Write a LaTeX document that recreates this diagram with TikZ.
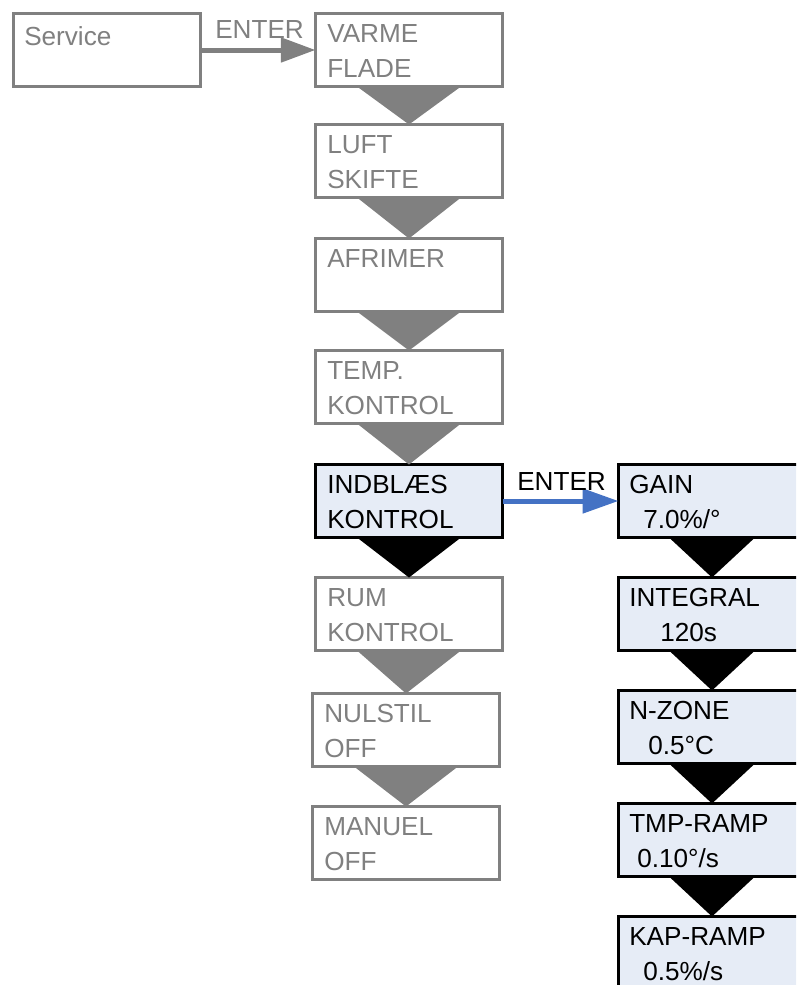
\documentclass[tikz,border=0pt]{standalone}
\usepackage{fontspec}
\setmainfont{Liberation Sans}
\usetikzlibrary{arrows.meta,calc}
\definecolor{gr}{HTML}{808080}
\definecolor{lb}{HTML}{E6ECF6}
\definecolor{bl}{HTML}{4472C4}
\begin{document}
\begin{tikzpicture}[x=0.75pt,y=-0.75pt,
  boxbase/.style={anchor=north west,inner sep=0pt,outer sep=0pt,line width=2.25pt,minimum width=140.25pt,minimum height=54.75pt},
  graybox/.style={boxbase,draw=gr,fill=white},
  actbox/.style={boxbase,draw=black,fill=lb},
  widebox/.style={boxbase,fill=lb,minimum width=187.5pt},
  openedge/.style={draw=black,line width=2.25pt},
  txt/.style={anchor=base west,inner sep=0pt,font=\fontsize{19.6}{22}\selectfont},
  gtxt/.style={txt,text=gr},
  btxt/.style={txt,text=black},
  gtri/.style={fill=gr},
  btri/.style={fill=black}]
\useasboundingbox (0,0) rectangle (796,985);
\clip (0,0) rectangle (796,985);
% Service
\node[graybox] (srv) at (13.5,13.5) {};
\node[gtxt] (tsrv) at (24,45) {Service};
% left column
\node[graybox] (b1) at (315.5,13.5) {};
\node[graybox] (b2) at (315.5,124.5) {};
\node[graybox] (b3) at (315.5,238.5) {};
\node[graybox] (b4) at (315.5,350.5) {};
\node[actbox]  (b5) at (315.5,464.5) {};
\node[graybox] (b6) at (315.5,577.5) {};
\node[graybox] (b7) at (312.5,693.5) {};
\node[graybox] (b8) at (312.5,806.5) {};
% right column (runs past the right edge)
\node[widebox] (r1) at (618.5,464.5) {};
\node[widebox] (r2) at (618.5,577.5) {};
\node[widebox] (r3) at (618.5,690.5) {};
\node[widebox] (r4) at (618.5,803.5) {};
\node[widebox] (r5) at (618.5,916.5) {};
\foreach \r in {r1,r2,r3,r4,r5}
  \draw[openedge] (\r.north east) -- (\r.north west) -- (\r.south west) -- (\r.south east);
% triangles left
\fill[gtri] ($(b1.south)+(-52,0)$) -- ($(b1.south)+(52,0)$) -- (b2.north) -- cycle;
\fill[gtri] ($(b2.south)+(-52,0)$) -- ($(b2.south)+(52,0)$) -- (b3.north) -- cycle;
\fill[gtri] ($(b3.south)+(-52,0)$) -- ($(b3.south)+(52,0)$) -- (b4.north) -- cycle;
\fill[gtri] ($(b4.south)+(-52,0)$) -- ($(b4.south)+(52,0)$) -- (b5.north) -- cycle;
\fill[btri] ($(b5.south)+(-52,0)$) -- ($(b5.south)+(52,0)$) -- (b6.north) -- cycle;
\fill[gtri] ($(b6.south)+(-52,0)$) -- ($(b6.south)+(52,0)$) -- (b7.north) -- cycle;
\fill[gtri] ($(b7.south)+(-52,0)$) -- ($(b7.south)+(52,0)$) -- (b8.north) -- cycle;
% triangles right
\fill[btri] ($(r1.south west)+(50.5,0)$) -- ($(r1.south west)+(136.5,0)$) -- ($(r2.north west)+(93.5,0)$) -- cycle;
\fill[btri] ($(r2.south west)+(50.5,0)$) -- ($(r2.south west)+(136.5,0)$) -- ($(r3.north west)+(93.5,0)$) -- cycle;
\fill[btri] ($(r3.south west)+(50.5,0)$) -- ($(r3.south west)+(136.5,0)$) -- ($(r4.north west)+(93.5,0)$) -- cycle;
\fill[btri] ($(r4.south west)+(50.5,0)$) -- ($(r4.south west)+(136.5,0)$) -- ($(r5.north west)+(93.5,0)$) -- cycle;
% arrows
\draw[gr,line width=3.75pt,-{Triangle[length=26pt,width=18pt]}] (srv.east) -- (b1.west);
\node[gtxt] (e1) at (215,38) {ENTER};
\draw[bl,line width=3.75pt,-{Triangle[length=27pt,width=18pt]}] (b5.east) -- (r1.west);
\node[btxt] (e2) at (517,490) {ENTER};
% left texts
\node[gtxt] (t1a) at (327,42) {VARME};
\node[gtxt] (t1b) at (327,77) {FLADE};
\node[gtxt] (t2a) at (327,153) {LUFT};
\node[gtxt] (t2b) at (327,188) {SKIFTE};
\node[gtxt] (t3a) at (327,267) {AFRIMER};
\node[gtxt] (t4a) at (327,379) {TEMP.};
\node[gtxt] (t4b) at (327,414) {KONTROL};
\node[btxt] (t5a) at (327,493) {INDBLÆS};
\node[btxt] (t5b) at (327,528) {KONTROL};
\node[gtxt] (t6a) at (327,606) {RUM};
\node[gtxt] (t6b) at (327,641) {KONTROL};
\node[gtxt] (t7a) at (324,722) {NULSTIL};
\node[gtxt] (t7b) at (324,757) {OFF};
\node[gtxt] (t8a) at (324,835) {MANUEL};
\node[gtxt] (t8b) at (324,870) {OFF};
% right texts
\node[btxt] (u1a) at (629,493) {GAIN};
\node[btxt] (u1b) at (643,528) {7.0\%/°};
\node[btxt] (u2a) at (629,606) {INTEGRAL};
\node[btxt] (u2b) at (660,641) {120s};
\node[btxt] (u3a) at (629,719) {N-ZONE};
\node[btxt] (u3b) at (648,754) {0.5°C};
\node[btxt] (u4a) at (629,832) {TMP-RAMP};
\node[btxt] (u4b) at (637,867) {0.10°/s};
\node[btxt] (u5a) at (629,945) {KAP-RAMP};
\node[btxt] (u5b) at (643,980) {0.5\%/s};
\end{tikzpicture}
\end{document}
